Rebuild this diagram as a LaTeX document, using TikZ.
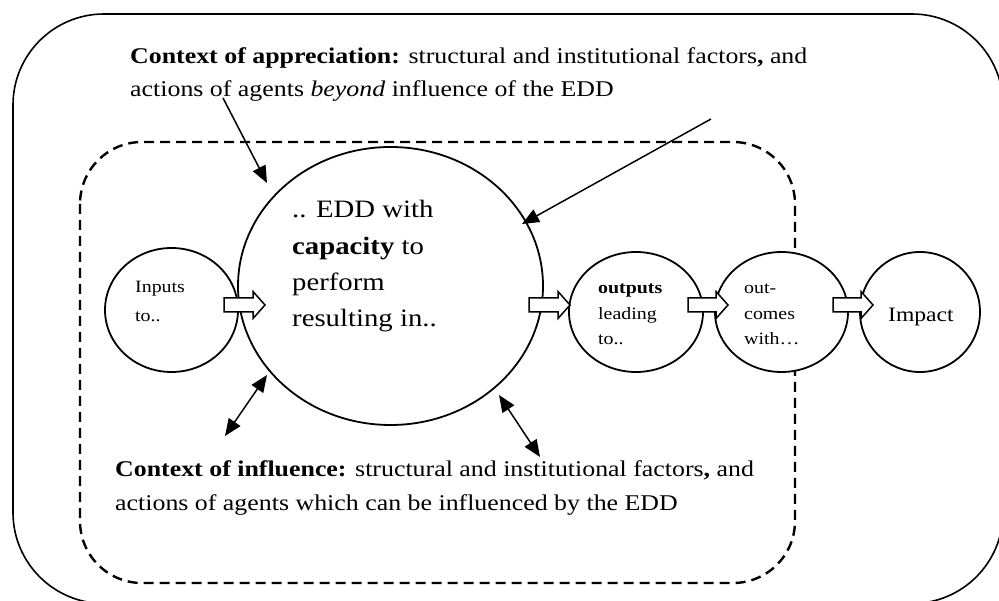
\documentclass[tikz,border=0pt]{standalone}
\usepackage{fontspec}
\setmainfont{Liberation Serif}[FakeStretch=1.15]
\usetikzlibrary{shapes.geometric,arrows.meta}
\newcommand\blkarrow[4]{% name, x0, x1, y
  \coordinate (#1) at ({(#2+#3)/2},#4);
  \draw[blockarr] (#2,#4-7) -- (#3-12,#4-7) -- (#3-12,#4-13.5) -- (#3,#4)
    -- (#3-12,#4+13.5) -- (#3-12,#4+7) -- (#2,#4+7) -- cycle;}
\begin{document}
\begin{tikzpicture}[x=1pt,y=-1pt,
  outerbox/.style={line width=1.6pt},
  dashbox/.style={line width=2.4pt,dash pattern=on 10pt off 6pt},
  circ/.style={draw,ellipse,line width=1.8pt,fill=white,inner sep=0pt},
  blockarr/.style={line width=1.5pt,fill=white,line join=miter},
  ptr/.style={line width=1.5pt,-{Triangle[length=17pt,width=14pt]}},
  dptr/.style={line width=1.5pt,{Triangle[length=17pt,width=14pt]}-{Triangle[length=17pt,width=14pt]}},
  ctx/.style={anchor=base west,inner sep=0pt,font=\fontsize{22.5}{26}\selectfont},
  big/.style={anchor=base west,inner sep=0pt,font=\fontsize{25}{30}\selectfont},
  small/.style={anchor=base west,inner sep=0pt,font=\fontsize{17.3}{20}\selectfont},
  mid/.style={anchor=base west,inner sep=0pt,font=\fontsize{20.5}{24}\selectfont}]
\useasboundingbox (0,0) rectangle (999,601);
\begin{scope}
\clip (0,0) rectangle (999,601);
% outer box
\draw[outerbox,rounded corners=91pt] (13,14) rectangle (1003,603.5);
% dashed box
\draw[dashbox,rounded corners=62pt] (80,142) rectangle (795,583);
\end{scope}
% circles
\node[circ,minimum width=133pt,minimum height=124pt] (inputs) at (171.5,310) {};
\node[circ,minimum width=305pt,minimum height=278pt] (edd) at (390.5,286) {};
\node[circ,minimum width=134pt,minimum height=120pt] (outputs) at (636,312) {};
\node[circ,minimum width=133pt,minimum height=120pt] (outcomes) at (781.5,312) {};
\node[circ,minimum width=120pt,minimum height=120pt] (impact) at (920,312) {};
% block arrows
\blkarrow{b1}{224}{265}{305}
\blkarrow{b2}{529}{570}{305}
\blkarrow{b3}{688}{728}{305}
\blkarrow{b4}{833}{873}{305}
% texts
\node[ctx] (ap1) at (130,64) {\textbf{Context of appreciation:} structural and institutional factors\textbf{,} and};
\node[ctx] (ap2) at (130,97) {actions of agents \textit{beyond} influence of the EDD};
\node[ctx] (in1) at (115,477) {\textbf{Context of influence:} structural and institutional factors\textbf{,} and};
\node[ctx] (in2) at (115,510) {actions of agents which can be influenced by the EDD};
\node[big] (e1) at (292,218) {.. EDD with};
\node[big] (e2) at (292,254.3) {\textbf{capacity} to};
\node[big] (e3) at (292,290.6) {perform};
\node[big] (e4) at (292,327) {resulting in..};
\node[small] (i1) at (135,293) {Inputs};
\node[small] (i2) at (135,322) {to..};
\node[small] (o1) at (598,294) {\textbf{outputs}};
\node[small] (o2) at (598,320) {leading};
\node[small] (o3) at (598,345) {to..};
\node[small] (c1) at (744,294) {out-};
\node[small] (c2) at (744,320) {comes};
\node[small] (c3) at (744,345) {with…};
\node[mid] (im) at (888,322) {Impact};
% pointers
\coordinate (p1s) at (223,98);
\coordinate (p1e) at (267,183);
\coordinate (p2s) at (711,119);
\coordinate (p2e) at (522,224);
\coordinate (q1a) at (267,375);
\coordinate (q1b) at (225,436);
\coordinate (q2a) at (499,395);
\coordinate (q2b) at (540,457);
\draw[ptr] (p1s) -- (p1e);
\draw[ptr] (p2s) -- (p2e);
\draw[dptr] (q1a) -- (q1b);
\draw[dptr] (q2a) -- (q2b);
\end{tikzpicture}
\end{document}
